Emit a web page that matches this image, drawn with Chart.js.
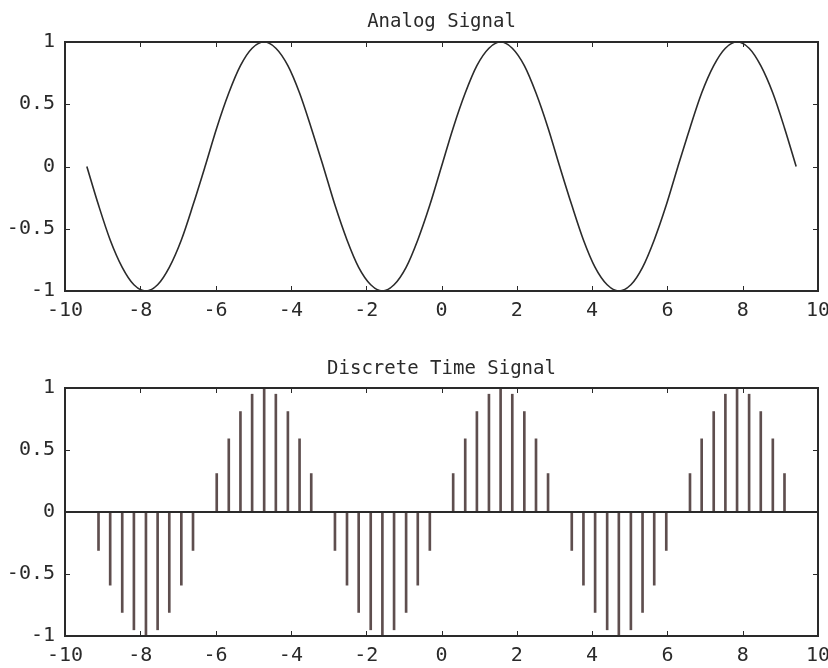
<!DOCTYPE html>
<html>
<head>
<meta charset="utf-8">
<script src="https://cdn.jsdelivr.net/npm/chart.js@4/dist/chart.umd.min.js"></script>
<style>
  html, body { margin: 0; padding: 0; background: #fff; }
  #wrap1 { position: absolute; left: 0; top: 0; width: 828px; height: 330px; }
  #wrap2 { position: absolute; left: 0; top: 330px; width: 828px; height: 338px; }
</style>
</head>
<body>
<div id="wrap1"><canvas id="c1"></canvas></div>
<div id="wrap2"><canvas id="c2"></canvas></div>
<script>
// ---- data ----
const sampleTimes = [
  -9.42, -9.11, -8.80, -8.48, -8.17, -7.85, -7.54, -7.23, -6.91, -6.60,
  -6.28, -5.97, -5.65, -5.34, -5.03, -4.71, -4.40, -4.08, -3.77, -3.46,
  -3.14, -2.83, -2.51, -2.20, -1.88, -1.57, -1.26, -0.94, -0.63, -0.31,
   0.00,  0.31,  0.63,  0.94,  1.26,  1.57,  1.88,  2.20,  2.51,  2.83,
   3.14,  3.46,  3.77,  4.08,  4.40,  4.71,  5.03,  5.34,  5.65,  5.97,
   6.28,  6.60,  6.91,  7.23,  7.54,  7.85,  8.17,  8.48,  8.80,  9.11,
   9.42
];
const analogValues = [
   0.00, -0.31, -0.59, -0.81, -0.95, -1.00, -0.95, -0.81, -0.59, -0.31,
   0.00,  0.31,  0.59,  0.81,  0.95,  1.00,  0.95,  0.81,  0.59,  0.31,
   0.00, -0.31, -0.59, -0.81, -0.95, -1.00, -0.95, -0.81, -0.59, -0.31,
   0.00,  0.31,  0.59,  0.81,  0.95,  1.00,  0.95,  0.81,  0.59,  0.31,
   0.00, -0.31, -0.59, -0.81, -0.95, -1.00, -0.95, -0.81, -0.59, -0.31,
   0.00,  0.31,  0.59,  0.81,  0.95,  1.00,  0.95,  0.81,  0.59,  0.31,
   0.00
];
const discreteValues = [
   0.00, -0.31, -0.59, -0.81, -0.95, -1.00, -0.95, -0.81, -0.59, -0.31,
   0.00,  0.31,  0.59,  0.81,  0.95,  1.00,  0.95,  0.81,  0.59,  0.31,
   0.00, -0.31, -0.59, -0.81, -0.95, -1.00, -0.95, -0.81, -0.59, -0.31,
   0.00,  0.31,  0.59,  0.81,  0.95,  1.00,  0.95,  0.81,  0.59,  0.31,
   0.00, -0.31, -0.59, -0.81, -0.95, -1.00, -0.95, -0.81, -0.59, -0.31,
   0.00,  0.31,  0.59,  0.81,  0.95,  1.00,  0.95,  0.81,  0.59,  0.31,
   0.00
];
const xTickValues = [-10, -8, -6, -4, -2, 0, 2, 4, 6, 8, 10];
const yTickValues = [-1, -0.5, 0, 0.5, 1];
const titles = ['Analog Signal', 'Discrete Time Signal'];

// ---- helpers ----
const MONO = "'DejaVu Sans Mono', 'Liberation Mono', monospace";
const INK = '#2a2a2a';

const framePlugin = {
  id: 'frame',
  afterDatasetsDraw(chart, args, opts) {
    const { ctx, chartArea: a, scales } = chart;
    const xs = scales.x, ys = scales.y;
    ctx.save();
    ctx.strokeStyle = INK;
    ctx.lineWidth = 1;
    ctx.beginPath();
    const tl = 5;
    xTickValues.forEach(v => {
      if (v === xs.min || v === xs.max) return;
      const px = Math.round(xs.getPixelForValue(v)) + 0.5;
      ctx.moveTo(px, a.top); ctx.lineTo(px, a.top + tl);
      ctx.moveTo(px, a.bottom); ctx.lineTo(px, a.bottom - tl);
    });
    yTickValues.forEach(v => {
      if (v === ys.min || v === ys.max) return;
      const py = Math.round(ys.getPixelForValue(v)) + 0.5;
      ctx.moveTo(a.left, py); ctx.lineTo(a.left + tl, py);
      ctx.moveTo(a.right, py); ctx.lineTo(a.right - tl, py);
    });
    ctx.stroke();
    if (opts.zeroLine) {
      const pz = ys.getPixelForValue(0);
      ctx.lineWidth = 2;
      ctx.beginPath();
      ctx.moveTo(a.left, pz); ctx.lineTo(a.right, pz);
      ctx.stroke();
    }
    ctx.lineWidth = 2;
    ctx.strokeRect(a.left, a.top, a.right - a.left, a.bottom - a.top);
    ctx.restore();
  }
};

function makeOptions(title, titlePad, xAxisHeight, xLabelPad, zeroLine) {
  return {
    responsive: true,
    maintainAspectRatio: false,
    animation: false,
    events: [],
    layout: { padding: { left: 0, right: 10, top: 0, bottom: 0 } },
    plugins: {
      legend: { display: false },
      tooltip: { enabled: false },
      title: {
        display: true,
        fullSize: false,
        text: title,
        color: INK,
        font: { family: MONO, size: 19, weight: 'normal', lineHeight: 1.2 },
        padding: titlePad
      },
      frame: { zeroLine: zeroLine }
    },
    scales: {
      x: {
        type: 'linear',
        min: -10, max: 10,
        offset: false,
        grid: { display: false, offset: false },
        border: { display: false },
        afterBuildTicks: s => { s.ticks = xTickValues.map(v => ({ value: v })); },
        afterFit: s => { s.height = xAxisHeight; s.paddingLeft = 0; s.paddingRight = 0; },
        ticks: {
          color: INK,
          maxRotation: 0, autoSkip: false,
          padding: xLabelPad,
          font: { family: MONO, size: 20 },
          callback: v => String(v)
        }
      },
      y: {
        type: 'linear',
        min: -1, max: 1,
        grid: { display: false },
        border: { display: false },
        afterBuildTicks: s => { s.ticks = yTickValues.map(v => ({ value: v })); },
        afterFit: s => { s.width = 65; s.paddingTop = 0; s.paddingBottom = 0; },
        ticks: {
          color: INK,
          padding: 2,
          font: { family: MONO, size: 20 },
          callback: v => String(v)
        }
      }
    }
  };
}

new Chart(document.getElementById('c1'), {
  type: 'line',
  data: {
    datasets: [{
      data: sampleTimes.map((t, i) => ({ x: t, y: analogValues[i] })),
      borderColor: '#2b2b2b',
      borderWidth: 1.6,
      pointRadius: 0,
      cubicInterpolationMode: 'monotone',
      fill: false
    }]
  },
  options: makeOptions(titles[0], { top: 11, bottom: 8.2 }, 39, 0, false),
  plugins: [framePlugin]
});

new Chart(document.getElementById('c2'), {
  type: 'bar',
  data: {
    datasets: [{
      data: sampleTimes.map((t, i) => ({ x: t, y: discreteValues[i] })),
      backgroundColor: '#5e4e4e',
      borderWidth: 0,
      barThickness: 2
    }]
  },
  options: makeOptions(titles[1], { top: 28, bottom: 7.2 }, 32, 0, true),
  plugins: [framePlugin]
});
</script>
</body>
</html>
